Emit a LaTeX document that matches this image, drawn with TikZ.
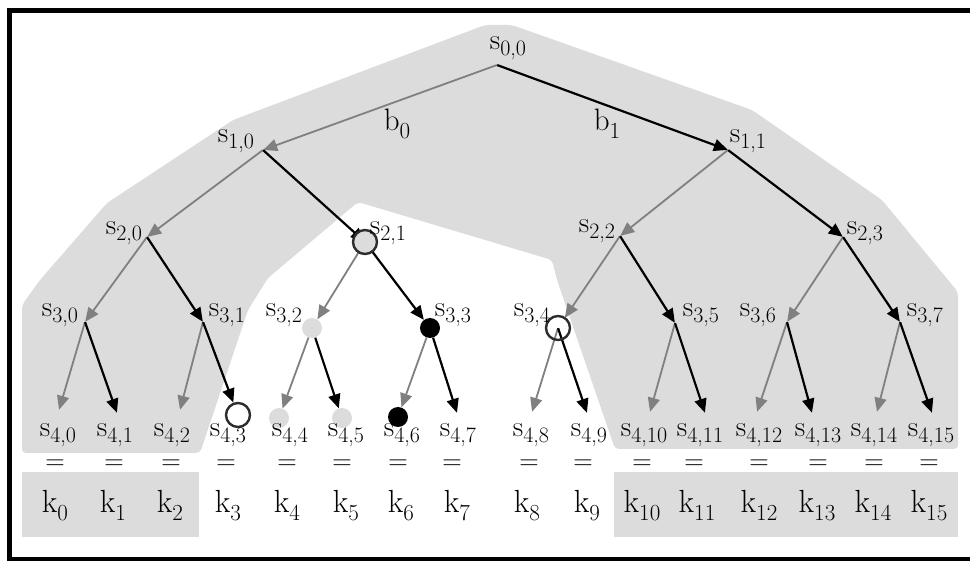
\documentclass[tikz,border=0pt]{standalone}
\usetikzlibrary{arrows.meta}
\definecolor{hullgray}{RGB}{220,220,220}
\definecolor{edgegray}{RGB}{128,128,128}
\definecolor{ringgray}{RGB}{45,45,45}
% lowered index for state labels and key labels
\newcommand\sidx[1]{\raisebox{-6pt}{\fontsize{22}{24}\selectfont #1}}
\newcommand\kidx[1]{\raisebox{-8pt}{\fontsize{23}{25}\selectfont #1}}
\begin{document}
\begin{tikzpicture}[x=1pt,y=-1pt,
  pt/.style={inner sep=0pt,minimum size=0pt},
  lightdot/.style={circle,fill=hullgray,inner sep=0pt,minimum size=20pt},
  darkdot/.style={circle,fill=black,inner sep=0pt,minimum size=20pt},
  ring/.style={circle,draw=ringgray,line width=2.4pt,inner sep=0pt,minimum size=24pt},
  lo/.style={draw=edgegray,line width=1.8pt,-{Triangle[length=14pt,width=12pt]}},
  hi/.style={draw=black,line width=2.2pt,-{Triangle[length=14pt,width=12pt]}},
  lab/.style={anchor=base,inner sep=0pt,font=\fontsize{29}{30}\selectfont},
  keylab/.style={anchor=base,inner sep=0pt,font=\fontsize{32}{34}\selectfont},
  eqlab/.style={inner sep=0pt,font=\fontsize{27}{27}\selectfont},
  blab/.style={anchor=base,inner sep=0pt,font=\fontsize{31}{32}\selectfont}]
\useasboundingbox (0,0) rectangle (970,561);

% shaded regions
\fill[hullgray,rounded corners=4pt] (22,453) -- (22,305) -- (40,280) -- (107,203) -- (233,120)
  -- (485,25) -- (512,25) -- (752,110) -- (882,200) -- (958,292) -- (958,449) -- (615,449)
  -- (557,280) -- (552,260) -- (358,202) -- (268,278) -- (248,310) -- (200,453) -- cycle;
\fill[hullgray] (22,472) rectangle (199,537);
\fill[hullgray] (614,472) rectangle (958,537);

% frame
\draw[line width=5.5pt,line join=miter] (985,10.5) -- (9.5,10.5) -- (9.5,560) -- (985,560);

% tree nodes
\node[pt] (s00) at (497,65) {};
\node[pt] (s10) at (263,150) {};
\node[pt] (s11) at (728,150) {};
\node[pt] (s20) at (147,237) {};
\node[pt] (s21) at (365,242) {};
\node[pt] (s22) at (620,236) {};
\node[pt] (s23) at (843,237) {};
\node[pt] (s30) at (85,322) {};
\node[pt] (s31) at (203,322) {};
\node[lightdot] (s32) at (312,328) {};
\node[darkdot] (s33) at (430,328) {};
\node[pt] (s34) at (558,328) {};
\node[pt] (s35) at (675,323) {};
\node[pt] (s36) at (787,322) {};
\node[pt] (s37) at (900,322) {};
\node[pt] (s40) at (59,410) {};
\node[pt] (s41) at (117,413) {};
\node[pt] (s42) at (180,410) {};
\node[ring,fill=white] (s43) at (238,415) {};
\node[lightdot] (s44) at (279,418) {};
\node[lightdot] (s45) at (342,418) {};
\node[darkdot] (s46) at (398,417) {};
\node[pt] (s47) at (457,413) {};
\node[pt] (s48) at (532,412) {};
\node[pt] (s49) at (587,413) {};
\node[pt] (s410) at (650,412) {};
\node[pt] (s411) at (705,413) {};
\node[pt] (s412) at (757,412) {};
\node[pt] (s413) at (812,413) {};
\node[pt] (s414) at (877,412) {};
\node[pt] (s415) at (932,413) {};

% branches: left child grey, right child black
\draw[lo] (s00) -- (s10);
\draw[hi] (s00) -- (s11);
\draw[lo] (s10) -- (s20);
\draw[hi] (s10) -- (s21);
\draw[lo] (s11) -- (s22);
\draw[hi] (s11) -- (s23);
\draw[lo] (s20) -- (s30);
\draw[hi] (s20) -- (s31);
\draw[lo] (s21) -- (s32);
\draw[hi] (s21) -- (s33);
\draw[lo,shorten >=12pt] (s22) -- (s34);
\draw[hi] (s22) -- (s35);
\draw[lo] (s23) -- (s36);
\draw[hi] (s23) -- (s37);
\draw[lo] (s30) -- (s40);
\draw[hi] (s30) -- (s41);
\draw[lo] (s31) -- (s42);
\draw[hi] (s31) -- (s43);
\draw[lo] (s32) -- (s44);
\draw[hi] (s32) -- (s45);
\draw[lo] (s33) -- (s46);
\draw[hi] (s33) -- (s47);
\draw[lo] (s34) -- (s48);
\draw[hi] (s34) -- (s49);
\draw[lo] (s35) -- (s410);
\draw[hi] (s35) -- (s411);
\draw[lo] (s36) -- (s412);
\draw[hi] (s36) -- (s413);
\draw[lo] (s37) -- (s414);
\draw[hi] (s37) -- (s415);

% rings marking nodes
\node[ring,fill=hullgray] (r21) at (s21) {};
\node[ring] (r34) at (s34) {};

% branch labels
\node[blab] (b0) at (397,131) {b\kidx{0}};
\node[blab] (b1) at (607,131) {b\kidx{1}};

% state labels
\node[lab] (l00) at (508,50) {s\sidx{0,0}};
\node[lab] (l10) at (236,143) {s\sidx{1,0}};
\node[lab] (l11) at (748,143) {s\sidx{1,1}};
\node[lab] (l20) at (124,235) {s\sidx{2,0}};
\node[lab] (l21) at (388,235) {s\sidx{2,1}};
\node[lab] (l22) at (597,233) {s\sidx{2,2}};
\node[lab] (l23) at (865,235) {s\sidx{2,3}};
\foreach \x [count=\i from 0] in {60,227,284,453,532,701,758,925}
  \node[lab] (l3\i) at (\x,317) {s\sidx{3,\i}};
\foreach \x [count=\i from 0] in {58,115,172,228,290,346,402,458,531,589,644,700,759,818,874,931}
  \node[lab] (l4\i) at (\x,436) {s\sidx{4,\i}};

% equalities and keys
\foreach \x [count=\i from 0] in {55,114,171,226,287,342,398,452,529,583,642,694,759,818,874,929}
  \node[eqlab] (e\i) at (\x,465) {=};
\foreach \x [count=\i from 0] in {55,113,170,228,287,346,401,457,527,587,642,697,759,817,873,929}
  \node[keylab] (k\i) at (\x,512) {k\kidx{\i}};
\end{tikzpicture}
\end{document}
